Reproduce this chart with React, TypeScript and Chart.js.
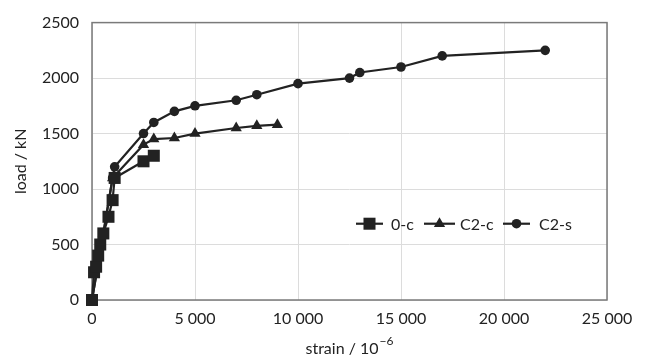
import React, { useEffect, useRef } from "react";
import { Chart, registerables } from "chart.js";

Chart.register(...registerables);

const seriesNames = ["0-c", "C2-c", "C2-s"];

const zeroCStrain = [0, 100, 200, 300, 400, 550, 800, 1000, 1100, 2500, 3000];
const zeroCLoad = [0, 250, 300, 400, 500, 600, 750, 900, 1100, 1250, 1300];

const c2cStrain = [0, 550, 1000, 2500, 3000, 4000, 5000, 7000, 8000, 9000];
const c2cLoad = [0, 600, 1100, 1400, 1450, 1460, 1500, 1550, 1570, 1580];

const c2sStrain = [0, 550, 1000, 1100, 2500, 3000, 4000, 5000, 7000, 8000, 10000, 12500, 13000, 15000, 17000, 22000];
const c2sLoad = [0, 600, 1100, 1200, 1500, 1600, 1700, 1750, 1800, 1850, 1950, 2000, 2050, 2100, 2200, 2250];

const xTickValues = [0, 5000, 10000, 15000, 20000, 25000];
const yTickValues = [0, 500, 1000, 1500, 2000, 2500];

const xTitleBase = "strain / 10";
const xTitleSup = "−6";

const FONT = "Lato";
const INK = "#222222";

const pointStyles = ["rect", "triangle", "circle"] as const;
const pointRadii = [8.5, 6.5, 4.8];

function toPoints(xs: number[], ys: number[]) {
  return xs.map((x, i) => ({ x, y: ys[i] }));
}

function fmtThousands(v: number) {
  if (Math.abs(v) < 1000) return String(v);
  const s = String(Math.round(v));
  return s.slice(0, s.length - 3) + " " + s.slice(s.length - 3);
}

function drawMarker(ctx: CanvasRenderingContext2D, style: string, r: number, x: number, y: number) {
  ctx.beginPath();
  if (style === "rect") {
    const s = Math.SQRT1_2 * r;
    ctx.rect(x - s, y - s, 2 * s, 2 * s);
  } else if (style === "triangle") {
    const side = (3 * r) / Math.sqrt(3);
    const h = (side * Math.sqrt(3)) / 2;
    ctx.moveTo(x, y - (2 * h) / 3);
    ctx.lineTo(x + side / 2, y + h / 3);
    ctx.lineTo(x - side / 2, y + h / 3);
    ctx.closePath();
  } else {
    ctx.arc(x, y, r, 0, Math.PI * 2);
  }
  ctx.fill();
}

const framePlugin = {
  id: "frame",
  beforeDatasetsDraw(chart: any) {
    const { ctx, chartArea } = chart;
    ctx.save();
    ctx.strokeStyle = "#7a7a7a";
    ctx.lineWidth = 1.5;
    ctx.strokeRect(chartArea.left, chartArea.top, chartArea.right - chartArea.left, chartArea.bottom - chartArea.top);
    ctx.restore();
  },
};

const xTitlePlugin = {
  id: "xTitle",
  afterDraw(chart: any) {
    const { ctx, chartArea } = chart;
    const cx = (chartArea.left + chartArea.right) / 2;
    const y = 349;
    ctx.save();
    ctx.fillStyle = INK;
    ctx.textBaseline = "middle";
    ctx.font = `16px ${FONT}`;
    const wBase = ctx.measureText(xTitleBase).width;
    ctx.font = `12px ${FONT}`;
    const wSup = ctx.measureText(xTitleSup).width;
    const start = cx - (wBase + wSup + 1) / 2;
    ctx.font = `16px ${FONT}`;
    ctx.textAlign = "left";
    ctx.fillText(xTitleBase, start, y);
    ctx.font = `12px ${FONT}`;
    ctx.fillText(xTitleSup, start + wBase + 1, y - 8);
    ctx.restore();
  },
};

const legendPlugin = {
  id: "inlineLegend",
  afterDraw(chart: any) {
    const { ctx } = chart;
    const area = chart.chartArea;
    const y = area.top + (area.bottom - area.top) * 0.725;
    const items = [
      { lineStart: 356, lineEnd: 383, textX: 391 },
      { lineStart: 424, lineEnd: 455, textX: 460 },
      { lineStart: 503, lineEnd: 530, textX: 539 },
    ];
    ctx.save();
    ctx.font = `16px ${FONT}`;
    ctx.textBaseline = "middle";
    chart.data.datasets.forEach((ds: any, i: number) => {
      const it = items[i];
      ctx.strokeStyle = INK;
      ctx.lineWidth = 2.2;
      ctx.beginPath();
      ctx.moveTo(it.lineStart, y);
      ctx.lineTo(it.lineEnd, y);
      ctx.stroke();
      ctx.fillStyle = INK;
      drawMarker(ctx, pointStyles[i], pointRadii[i], (it.lineStart + it.lineEnd) / 2, y);
      ctx.fillText(ds.label, it.textX, y + 1);
    });
    ctx.restore();
  },
};

export default function App() {
  const canvasRef = useRef<HTMLCanvasElement | null>(null);

  useEffect(() => {
    document.body.style.margin = "0";
    const canvas = canvasRef.current;
    if (!canvas) return;
    const datasets = [
      toPoints(zeroCStrain, zeroCLoad),
      toPoints(c2cStrain, c2cLoad),
      toPoints(c2sStrain, c2sLoad),
    ].map((data, i) => ({
      label: seriesNames[i],
      data,
      borderColor: INK,
      backgroundColor: INK,
      borderWidth: 2.2,
      pointStyle: pointStyles[i] as any,
      pointRadius: pointRadii[i],
      pointBackgroundColor: INK,
      pointBorderColor: INK,
      pointBorderWidth: 0,
      showLine: true,
      tension: 0,
      clip: false as any,
    }));

    const chart = new Chart(canvas, {
      type: "scatter",
      data: { datasets },
      options: {
        animation: false,
        responsive: false,
        maintainAspectRatio: false,
        layout: { padding: { left: 0, right: 43, top: 16, bottom: 0 } },
        plugins: {
          legend: { display: false },
          tooltip: { enabled: false },
        },
        scales: {
          x: {
            type: "linear",
            min: 0,
            max: 25000,
            afterBuildTicks(scale: any) {
              scale.ticks = xTickValues.map((v) => ({ value: v }));
            },
            afterFit(scale: any) {
              scale.height = 59;
            },
            grid: { color: "#dcdcdc", lineWidth: 1, drawTicks: false },
            border: { display: false },
            ticks: {
              color: INK,
              font: { family: FONT, size: 16 },
              padding: 9,
              maxRotation: 0,
              autoSkip: false,
              callback: (v: any) => fmtThousands(Number(v)),
            },
            title: { display: false },
          },
          y: {
            type: "linear",
            min: 0,
            max: 2500,
            afterBuildTicks(scale: any) {
              scale.ticks = yTickValues.map((v) => ({ value: v }));
            },
            afterFit(scale: any) {
              scale.width = 92;
            },
            grid: { color: "#dcdcdc", lineWidth: 1, drawTicks: false },
            border: { display: false },
            ticks: {
              color: INK,
              font: { family: FONT, size: 16 },
              padding: 13,
              autoSkip: false,
              callback: (v: any) => String(v),
            },
            title: {
              display: true,
              text: "load / kN",
              color: INK,
              font: { family: FONT, size: 16 },
              padding: { top: 11, bottom: 4 },
            },
          },
        },
      },
      plugins: [framePlugin, legendPlugin, xTitlePlugin],
    });
    return () => chart.destroy();
  }, []);

  return (
    <div style={{ width: 650, height: 359, background: "#fff" }}>
      <canvas ref={canvasRef} width={650} height={359} style={{ display: "block" }} />
    </div>
  );
}
